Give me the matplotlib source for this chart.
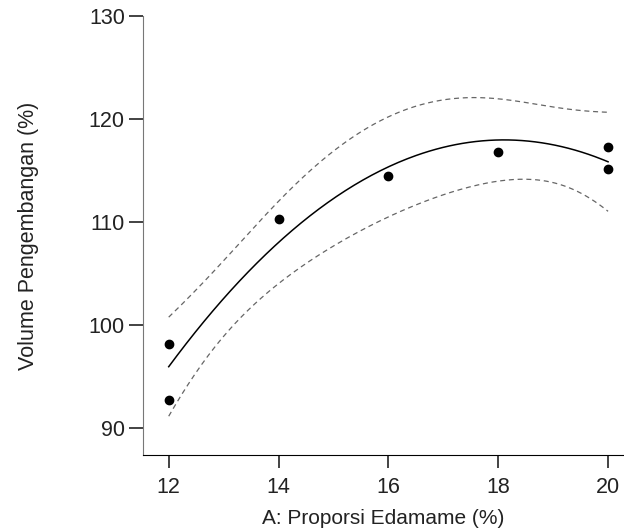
import numpy as np
import matplotlib
matplotlib.use("Agg")
import matplotlib.pyplot as plt

# Volume pengembangan vs proporsi edamame (quadratic model + 95% CI)

proporsi = [12, 12, 14, 16, 18, 20, 20]
volume = [98.2, 92.7, 110.3, 114.5, 116.8, 117.3, 115.1]

x_ticks = [12, 14, 16, 18, 20]
y_ticks = [90, 100, 110, 120, 130]

T_CRIT = 2.776  # t(0.975, df=4)


def quad_fit(x, y):
    x = np.array(x, dtype=float)
    y = np.array(y, dtype=float)
    X = np.column_stack([np.ones_like(x), x, x ** 2])
    beta, _, _, _ = np.linalg.lstsq(X, y, rcond=None)
    resid = y - X @ beta
    dof = len(x) - X.shape[1]
    s2 = resid @ resid / dof
    cov = np.linalg.inv(X.T @ X)
    return beta, s2, cov


def main():
    beta, s2, cov = quad_fit(proporsi, volume)

    xs = np.linspace(min(proporsi), max(proporsi), 200)
    Xs = np.column_stack([np.ones_like(xs), xs, xs ** 2])
    pred = Xs @ beta
    se = np.sqrt(s2 * np.einsum("ij,jk,ik->i", Xs, cov, Xs))
    lower = pred - T_CRIT * se
    upper = pred + T_CRIT * se

    plt.rcParams["font.family"] = ["Liberation Sans", "DejaVu Sans"]
    fig = plt.figure(figsize=(6.24, 5.3), dpi=100)
    ax = fig.add_axes([0.229, 0.1415, 0.771, 0.8285])

    ax.plot(xs, pred, color="black", lw=1.1)
    ax.plot(xs, upper, color="#666666", lw=0.9, dashes=(4, 3))
    ax.plot(xs, lower, color="#666666", lw=0.9, dashes=(4, 3))
    ax.plot(proporsi, volume, "o", color="black", ms=6)

    ax.set_xlim(11.53, 20.29)
    ax.set_ylim(87.38, 130)
    ax.set_xticks(x_ticks)
    ax.set_yticks(y_ticks)

    ax.spines["top"].set_visible(False)
    ax.spines["right"].set_visible(False)
    ax.spines["left"].set_color("#777777")
    ax.spines["bottom"].set_color("black")
    ax.tick_params(axis="y", direction="out", length=10, width=1.2, pad=3,
                   labelsize=15.5, colors="#222222")
    ax.tick_params(axis="x", direction="out", length=9, width=1.2, pad=7,
                   labelsize=15.5, colors="#222222")

    ax.set_xlabel("A: Proporsi Edamame (%)", fontsize=15, color="#222222", labelpad=8)
    ax.set_ylabel("Volume Pengembangan (%)", fontsize=15.5, color="#222222", labelpad=36)

    fig.savefig("out.png", dpi=100)


if __name__ == "__main__":
    main()
